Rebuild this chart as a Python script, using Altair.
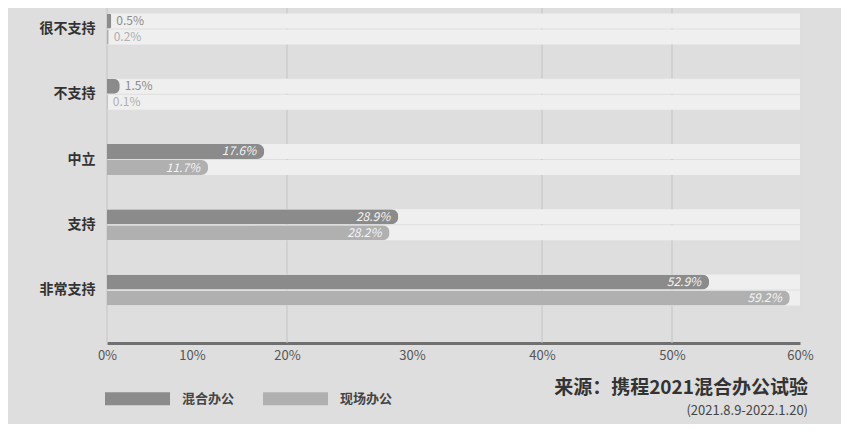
import altair as alt
import pandas as pd

# ---- data ----
categories = ["很不支持", "不支持", "中立", "支持", "非常支持"]
series = ["混合办公", "现场办公"]
values_a = [0.5, 1.5, 17.6, 28.9, 52.9]
values_b = [0.2, 0.1, 11.7, 28.2, 59.2]
tick_values = [0, 10, 20, 30, 40, 50, 60]
grid_values = [0, 20, 40, 50]
source_text = "来源：携程2021混合办公试验"
date_text = "(2021.8.9-2022.1.20)"

# ---- styling ----
FONT = "Noto Sans CJK SC"
colors = ["#8b8b8b", "#b0b0b0"]
tick_pixels = [0, 85, 180, 305, 435, 565, 693]  # the original axis is not evenly spaced
track_max = tick_values[-1]

rows = []
for cat, a, b in zip(categories, values_a, values_b):
    rows.append({"category": cat, "series": series[0], "value": a, "label": f"{a}%", "track": track_max})
    rows.append({"category": cat, "series": series[1], "value": b, "label": f"{b}%", "track": track_max})
df = pd.DataFrame(rows)

xscale = alt.Scale(domain=tick_values, range=tick_pixels, nice=False, zero=False)
xaxis = alt.Axis(
    values=tick_values, labelExpr="datum.value + '%'", grid=False, ticks=False,
    domainColor="#6f6f6f", domainWidth=3, offset=32, labelFontSize=13, labelFlush=False,
    labelColor="#555555", labelPadding=6, labelFont=FONT, title=None,
)
yenc = alt.Y(
    "category:N",
    sort=categories,
    title=None,
    scale=alt.Scale(paddingInner=0.356, paddingOuter=0),
    axis=alt.Axis(
        title=None, ticks=False, domain=False, labelFontSize=14, labelFontWeight="bold",
        labelColor="#333333", labelPadding=12, labelFont=FONT,
    ),
)
yoff = alt.YOffset("series:N", sort=series, scale=alt.Scale(paddingInner=0.0625, paddingOuter=0.344))

path = "M-1,-0.2L1,-0.2L1,0.2L-1,0.2Z"
color_enc = alt.Color(
    "series:N",
    sort=series,
    scale=alt.Scale(domain=series, range=colors),
    legend=alt.Legend(
        orient="none", legendX=-2, legendY=358, direction="horizontal", title=None,
        symbolType=path, symbolSize=4225, symbolStrokeWidth=0, symbolOpacity=1,
        labelOffset=12, columnPadding=28, labelFontSize=13, labelFontWeight="bold",
        labelColor="#444444", labelFont=FONT, padding=0,
    ),
)

grid = alt.Chart(pd.DataFrame({"g": grid_values})).mark_rule(color="#c4c4c4", strokeWidth=1).encode(
    x=alt.X("g:Q", scale=xscale, axis=xaxis, title=None), y=alt.value(0), y2=alt.value(335)
)

base = alt.Chart(df)

track = base.mark_bar(color="#efefef").encode(
    x=alt.X("track:Q", scale=xscale, title=None),
    y=yenc,
    yOffset=yoff,
)

bars = base.mark_bar(cornerRadiusEnd=7).encode(
    x=alt.X("value:Q", scale=xscale, title=None),
    y=yenc,
    yOffset=yoff,
    color=color_enc,
)

inside = base.transform_filter("datum.value >= 5").mark_text(
    align="right", baseline="middle", dx=-8, color="#f4f4f4", fontSize=12, fontStyle="italic", font=FONT
).encode(x=alt.X("value:Q", scale=xscale, title=None), y=yenc, yOffset=yoff, text="label:N")

outside = base.transform_filter("datum.value < 5").mark_text(
    align="left", baseline="middle", dx=5, fontSize=12, font=FONT
).encode(
    x=alt.X("value:Q", scale=xscale, title=None), y=yenc, yOffset=yoff, text="label:N",
    color=alt.Color("series:N", sort=series, scale=alt.Scale(domain=series, range=colors), legend=None),
)

src = alt.Chart(pd.DataFrame({"t": [source_text]})).mark_text(
    align="right", baseline="middle", fontSize=19, fontWeight="bold", color="#333333", font=FONT
).encode(x=alt.value(701), y=alt.value(380), text="t:N")

date = alt.Chart(pd.DataFrame({"t": [date_text]})).mark_text(
    align="right", baseline="middle", fontSize=13, color="#444444", font=FONT
).encode(x=alt.value(701), y=alt.value(403), text="t:N")

chart = alt.layer(grid, track, bars, inside, outside, src, date).properties(
    width=693,
    height=303,
    autosize=alt.AutoSizeParams(type="none"),
    padding={"left": 99, "top": 0, "right": 41, "bottom": 113},
    background="#dedede",
).configure_view(stroke=None).configure(font=FONT)

chart.save("out.html", embed_options={"renderer": "svg", "actions": False})
